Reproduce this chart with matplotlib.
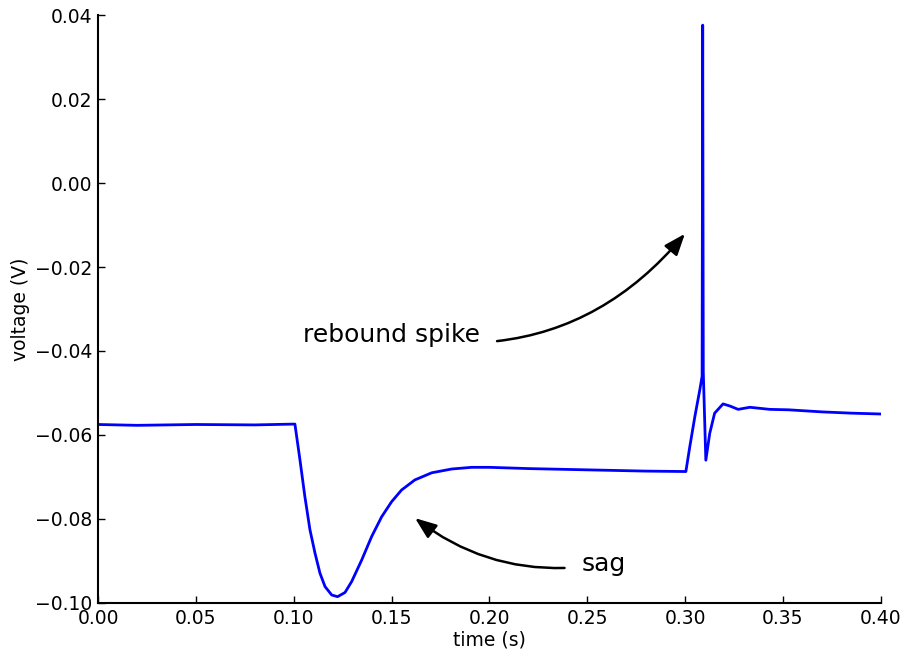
import matplotlib
matplotlib.use("Agg")
import matplotlib.pyplot as plt

# time (s) and voltage (V) samples
time_s = [0.000, 0.020, 0.050, 0.080, 0.1006, 0.1032, 0.1057, 0.1083, 0.1109, 0.1134,
          0.1160, 0.1194, 0.1224, 0.1262, 0.1296, 0.1347, 0.1398, 0.1449, 0.1500, 0.1551,
          0.1619, 0.1705, 0.1807, 0.1909, 0.2000, 0.2200, 0.2500, 0.2800, 0.3004, 0.3024,
          0.3050, 0.3075, 0.3087, 0.3090, 0.3093, 0.3106, 0.3126, 0.3151, 0.3194, 0.3229,
          0.3271, 0.3331, 0.3433, 0.3527, 0.3700, 0.3850, 0.4000]
voltage_v = [-0.0575, -0.0577, -0.0575, -0.0576, -0.0574, -0.0660, -0.0747, -0.0826, -0.0882, -0.0929,
             -0.0961, -0.0981, -0.0985, -0.0975, -0.0949, -0.0898, -0.0842, -0.0795, -0.0759, -0.0731,
             -0.0707, -0.0690, -0.0681, -0.0677, -0.0677, -0.0680, -0.0683, -0.0686, -0.0687, -0.0628,
             -0.0556, -0.0493, -0.0460, 0.0376, -0.0450, -0.0660, -0.0596, -0.0548, -0.0526, -0.0531,
             -0.0539, -0.0534, -0.0539, -0.0540, -0.0545, -0.0548, -0.0550]

x_ticks = [0.00, 0.05, 0.10, 0.15, 0.20, 0.25, 0.30, 0.35, 0.40]
y_ticks = [-0.10, -0.08, -0.06, -0.04, -0.02, 0.00, 0.02, 0.04]

ann_labels = ["rebound spike", "sag"]
ann_xy = [(0.2999, -0.0121), (0.162, -0.0798)]
ann_text_xy = [(0.1502, -0.0362), (0.2582, -0.0907)]
ann_rad = [0.3, -0.22]

fig = plt.figure(figsize=(9.08, 6.53), dpi=100)
ax = fig.add_axes([0.108, 0.0766, 0.862, 0.9004])

ax.plot(time_s, voltage_v, color="#0000ff", lw=2.0)
ax.set_xlim(0.0, 0.4)
ax.set_ylim(-0.10, 0.04)
ax.set_xticks(x_ticks)
ax.set_yticks(y_ticks)
ax.set_xticklabels([f"{v:.2f}" for v in x_ticks])
ax.set_yticklabels([f"{v:.2f}".replace("-", "\u2212") for v in y_ticks])

for s in ["top", "right"]:
    ax.spines[s].set_visible(False)
for s in ["left", "bottom"]:
    ax.spines[s].set_linewidth(1.5)
ax.tick_params(direction="in", length=5, width=1, labelsize=13.5, pad=4,
               top=False, right=False)

ax.set_xlabel("time (s)", fontsize=13.5, labelpad=2)
ax.set_ylabel("voltage (V)", fontsize=13.5, labelpad=4)

for lab, xy, xt, rad in zip(ann_labels, ann_xy, ann_text_xy, ann_rad):
    ax.annotate(lab, xy=xy, xytext=xt, fontsize=18, ha="center", va="center",
                arrowprops=dict(arrowstyle="-|>,head_length=0.65,head_width=0.25",
                                connectionstyle=f"arc3,rad={rad}",
                                color="black", lw=1.8, mutation_scale=20,
                                shrinkA=10, shrinkB=0))

fig.savefig("out.png", dpi=100)
